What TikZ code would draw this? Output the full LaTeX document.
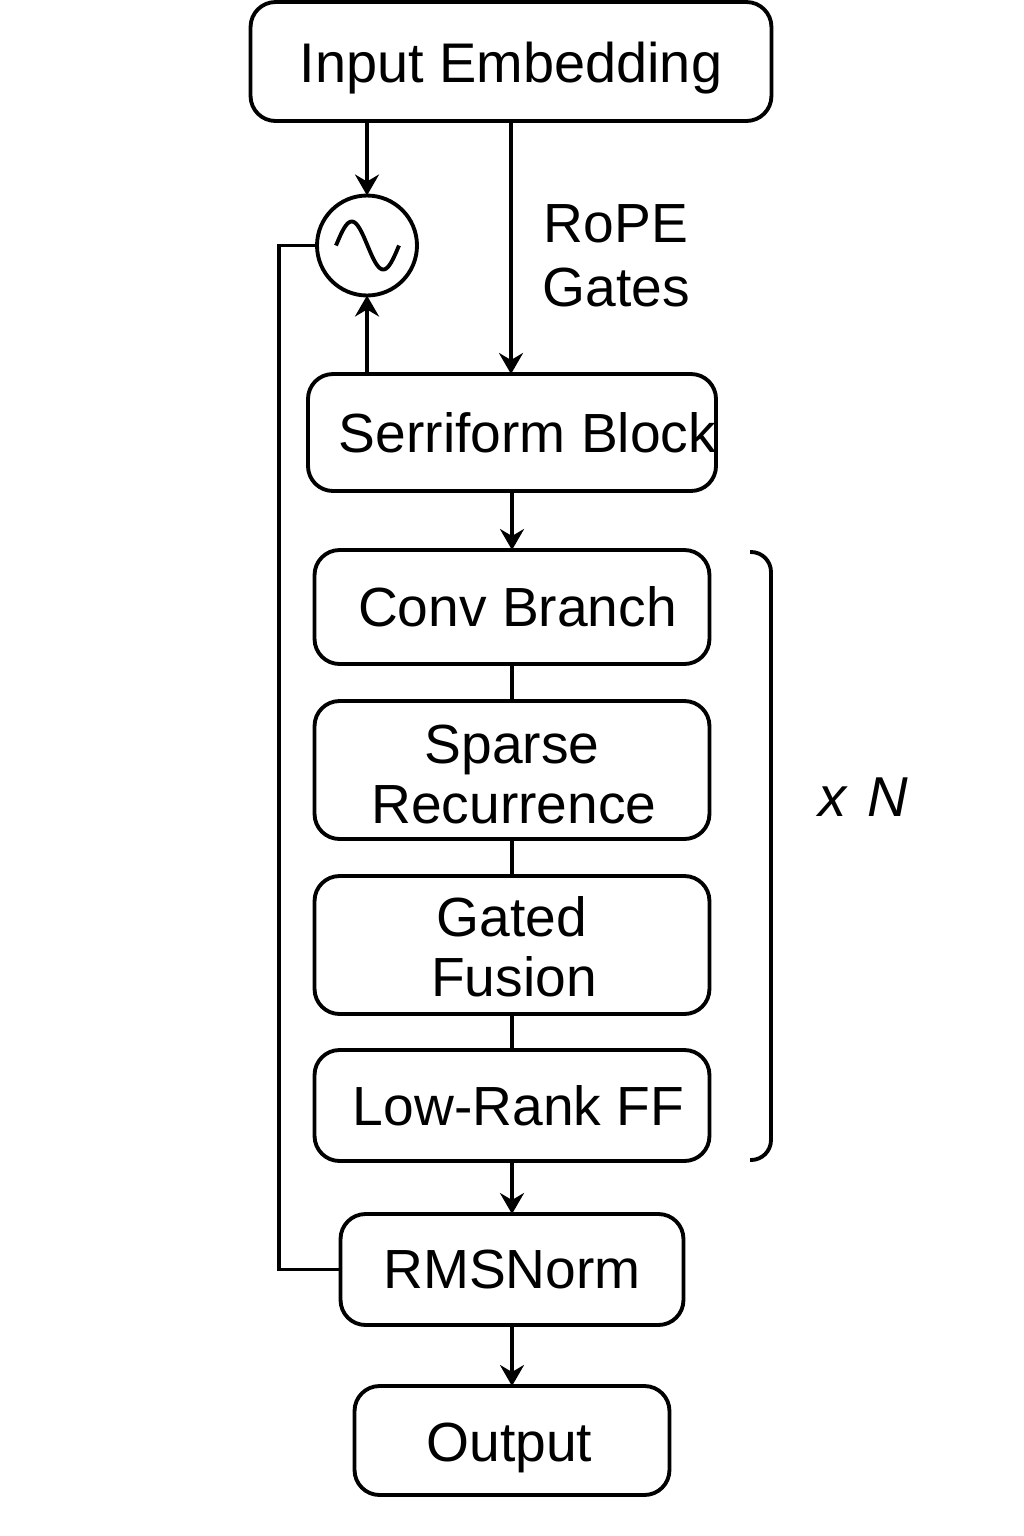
\documentclass[tikz,border=0pt]{standalone}
\usepackage{fontspec}
\setmainfont{Liberation Sans}
\usetikzlibrary{arrows.meta}

\tikzset{
  block/.style={draw, rounded corners=0.5cm, line width=2.2pt, inner sep=0pt, outer sep=0pt, align=center, font=\fontsize{31.4}{34.4}\selectfont},
  lowered/.style={text height=1.05cm, text depth=0.23cm},
  link/.style={line width=2.2pt, -{Stealth[length=0.42cm,width=0.48cm,inset=0.14cm]}},
  plain/.style={line width=2.2pt}
}

\begin{document}
\begin{tikzpicture}[x=0.02cm,y=-0.02cm]

\useasboundingbox (0,0) rectangle (1024,1536);

% blocks
{
\node[block, lowered, font=\fontsize{31.8}{34.4}\selectfont, minimum width=10.42cm, minimum height=2.38cm] (input) at (511,61.5) {Input Embedding};
\node[block, minimum width=8.16cm, minimum height=2.34cm] (serriform) at (512,432.5) {\hspace*{0.62cm}Serriform Block};

\node[block, minimum width=7.9cm, minimum height=2.28cm] (conv) at (512,607) {\hspace*{0.22cm}Conv Branch};
\node[block, minimum width=7.9cm, minimum height=2.76cm] (sparse) at (512,770) {\rule{0pt}{27pt}Sparse\\\hspace*{0.08cm}Recurrence};
\node[block, minimum width=7.9cm, minimum height=2.76cm] (gated) at (512,945) {\rule{0pt}{25pt}Gated\\\hspace*{0.08cm}Fusion};
\node[block, minimum width=7.9cm, minimum height=2.22cm] (lowrank) at (512,1105.5) {\hspace*{0.26cm}Low-Rank FF};

\node[block, minimum width=6.86cm, minimum height=2.22cm] (rmsnorm) at (512,1269.5) {RMSNorm};
\node[block, lowered, minimum width=6.3cm, minimum height=2.18cm] (output) at (512,1440.5) {Output\hspace*{0.1cm}};
}

% oscillator
\node[draw, circle, line width=2.2pt, minimum size=2cm, inner sep=0pt, outer sep=0pt] (sine) at (367,245.5) {};
\draw[plain, shift={(sine.center)}] plot[domain=0:360, samples=50, smooth] ({\x/360*63-31},{-24*sin(\x)});

% nodes
{
\node[font=\fontsize{31.4}{36.4}\selectfont, align=center] (rope) at (616,256) {RoPE\\Gates};
\node[font=\fontsize{32}{36}\itshape\selectfont] (repeat) at (863,797) {x\hspace{0.42cm}N};
}

\coordinate (feedback) at (279,1269.5);
\coordinate (brackettop) at (750,552);
\coordinate (bracketcorner) at (771,552);
\coordinate (bracketend) at (771,1160);
\coordinate (bracketbottom) at (750,1160);

% arrows
\draw[link] (input.south -| sine.north) -- (sine.north);
\draw[link] (input.south) -- (input.south |- serriform.north);
\draw[link] (serriform.north -| sine.south) -- (sine.south);
\draw[link] (serriform.south) -- (conv.north);
\draw[link] (lowrank.south) -- (rmsnorm.north);
\draw[link] (rmsnorm.south) -- (output.north);

% plain lines
\draw[plain] (conv.south) -- (sparse.north);
\draw[plain] (sparse.south) -- (gated.north);
\draw[plain] (gated.south) -- (lowrank.north);
\draw[plain] (rmsnorm.west) -- (feedback) |- (sine.west);

% bracket
\draw[plain, rounded corners=0.4cm] (brackettop) -- (bracketcorner) -- (bracketend) -- (bracketbottom);

\end{tikzpicture}
\end{document}
